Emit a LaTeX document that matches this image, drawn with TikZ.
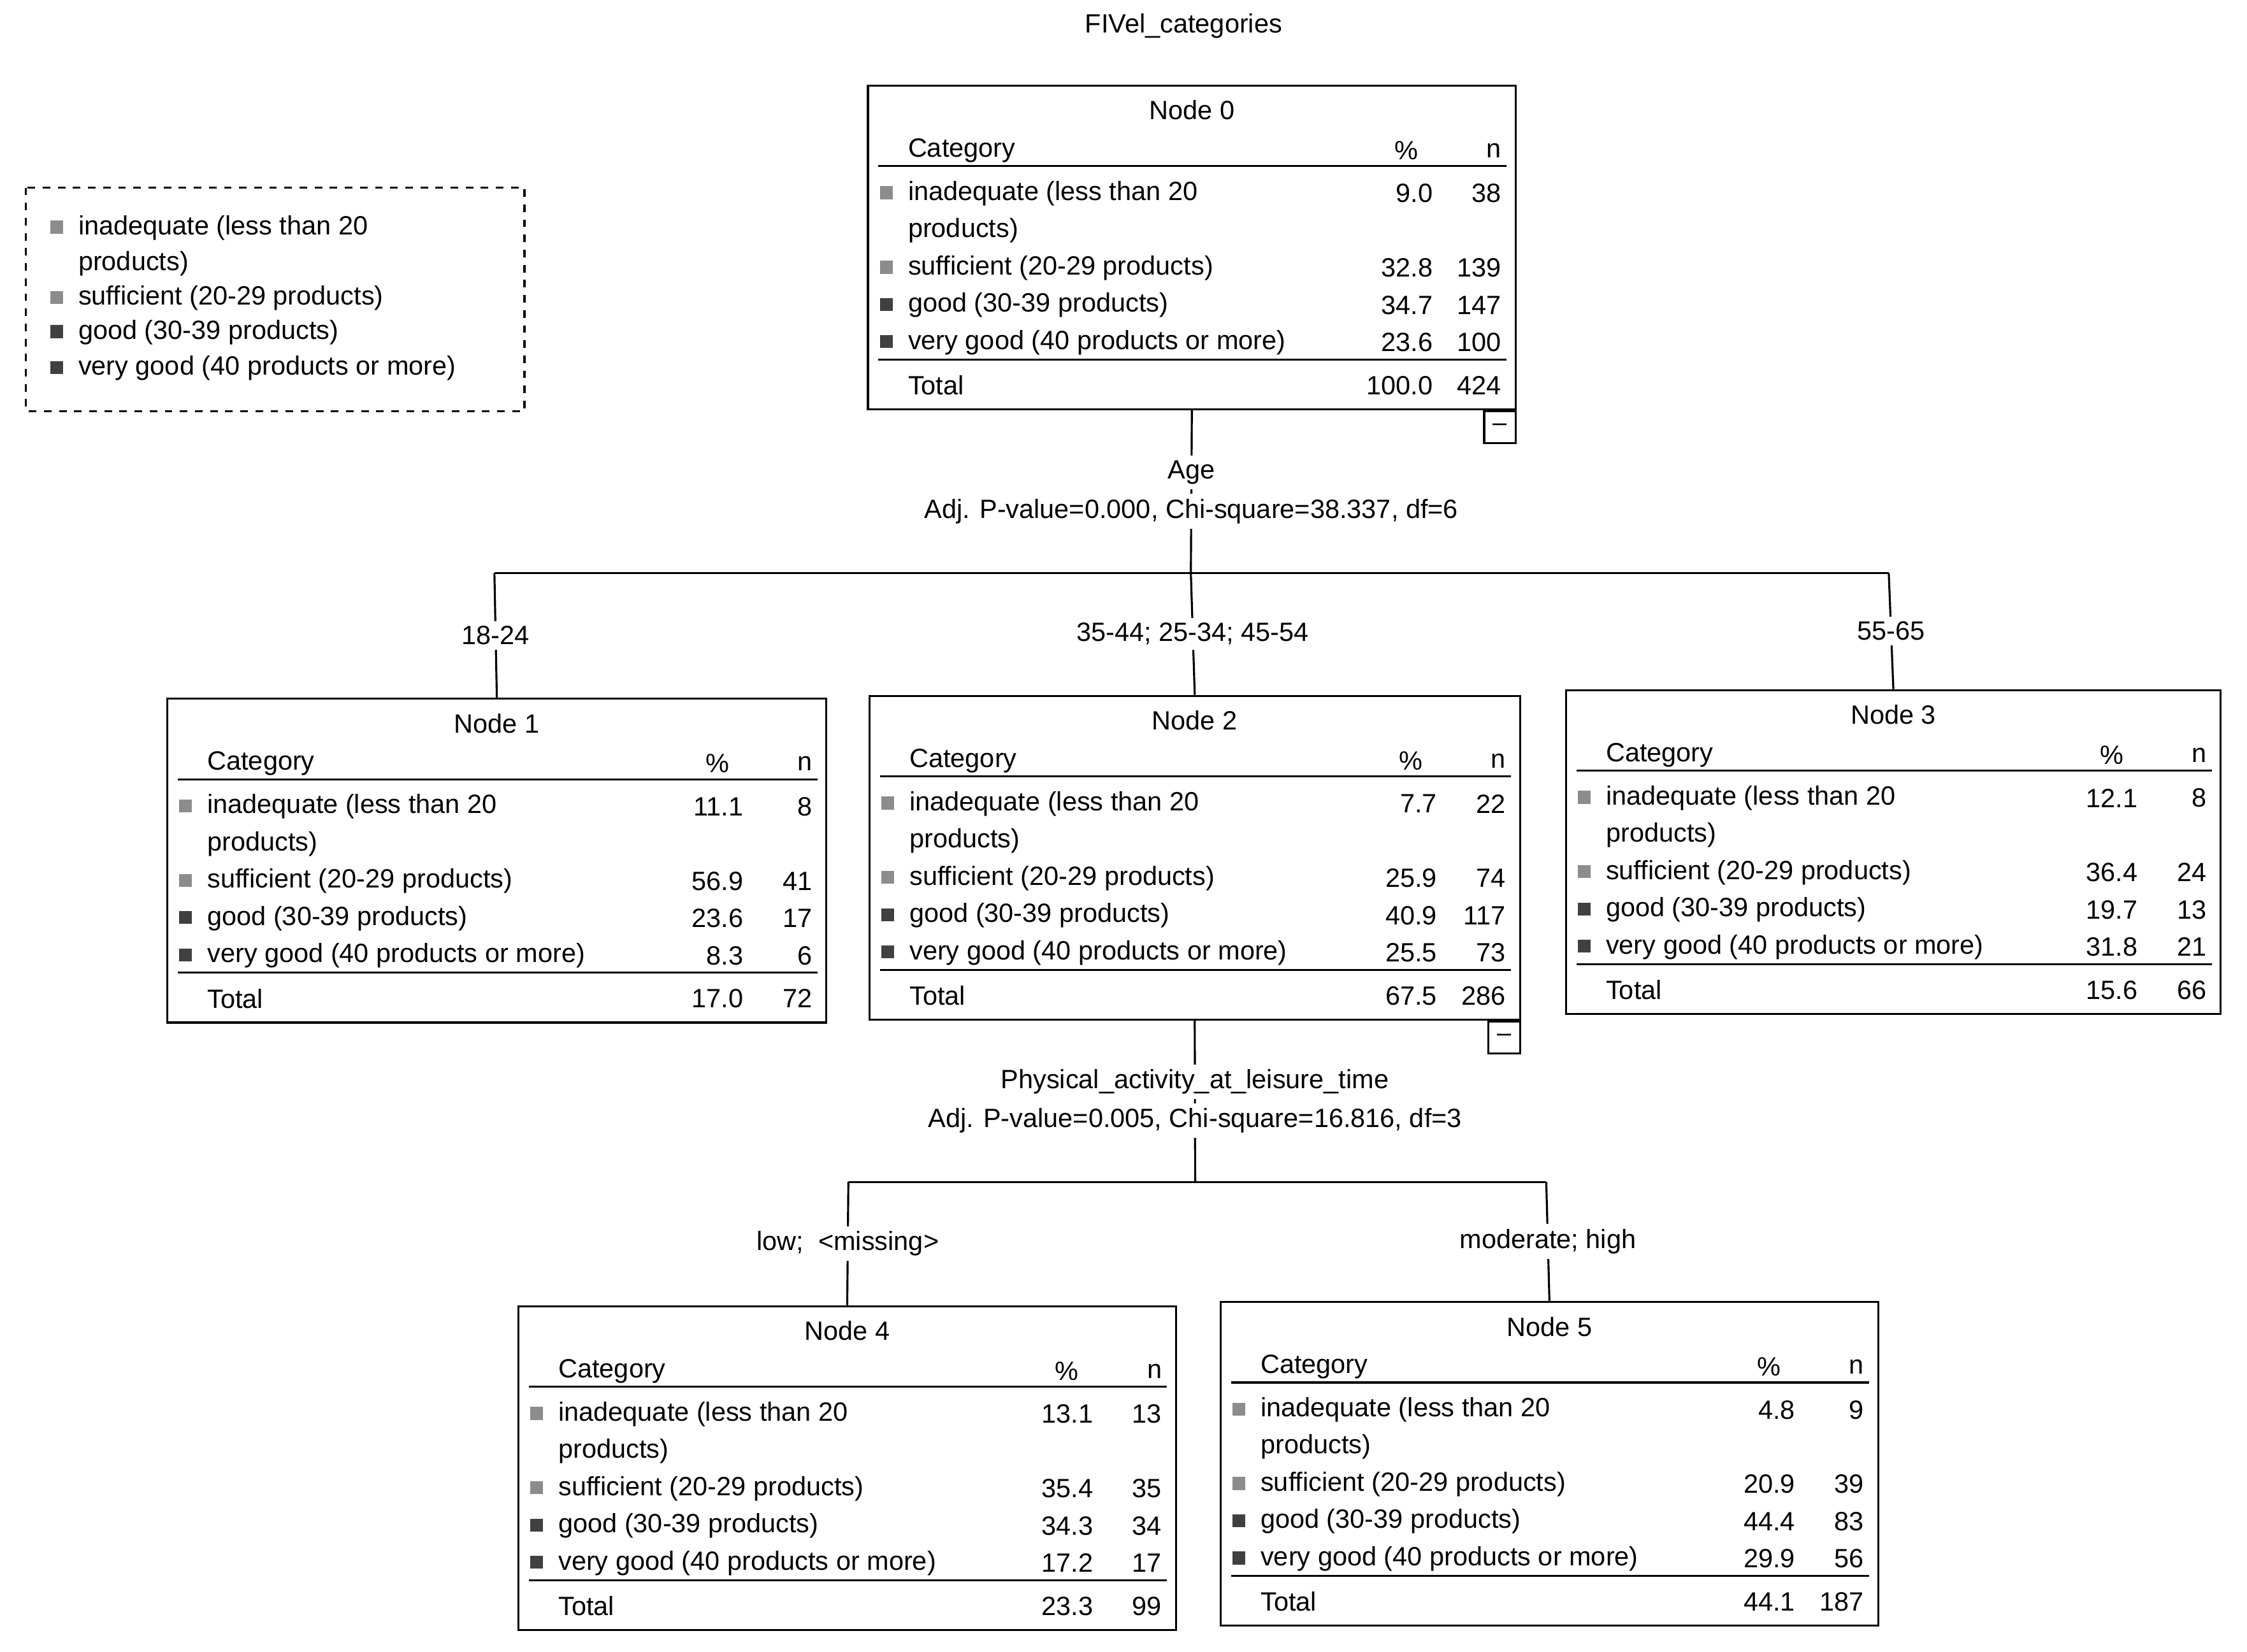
\documentclass[tikz,border=0pt]{standalone}
\usepackage{fontspec}
\setmainfont{Liberation Sans}
\usetikzlibrary{calc}

% one table node of the tree
\newcommand{\treenode}[8]{%
  \node[box, minimum width={#4*0.02cm}, anchor=north west] (#1) at (#2,#3) {};
  \node[txt, anchor=center] (#1t) at ($(#1.north)+(0,18)$) {#5};
  \node[txt, anchor=west] (#1c) at ($(#1.north west)+(28,46)$) {Category};
  \node[txt, anchor=east] (#1p) at ($(#1.north east)+(-68,46)$) {\%};
  \node[txt, anchor=east] (#1n) at ($(#1.north east)+(-10,46)$) {n};
  \draw ($(#1.north west)+(8,57)$) -- ($(#1.north east)+(-7,57)$);
  \node[txt, anchor=west] at ($(#1.north west)+(28,76)$) {inadequate (less than 20};
  \node[txt, anchor=west] at ($(#1.north west)+(28,102)$) {products)};
  \node[txt, anchor=west] at ($(#1.north west)+(28,128)$) {sufficient (20-29 products)};
  \node[txt, anchor=west] at ($(#1.north west)+(28,154)$) {good (30-39 products)};
  \node[txt, anchor=west] at ($(#1.north west)+(28,180)$) {very good (40 products or more)};
  \foreach \pv/\nv [count=\i] in {#6} {
    \pgfmathsetmacro\ry{\i==1 ? 76 : 76+26*\i}
    \pgfmathsetmacro\sh{\i<3 ? 45 : 75}
    \fill[black!\sh] ($(#1.north west)+(9,\ry-5)$) rectangle ++(9,9);
    \node[txt, anchor=east] at ($(#1.north east)+(-58,\ry)$) {\pv};
    \node[txt, anchor=east] at ($(#1.north east)+(-10,\ry)$) {\nv};
  }
  \draw ($(#1.north west)+(8,192)$) -- ($(#1.north east)+(-7,192)$);
  \node[txt, anchor=west] at ($(#1.north west)+(28,210)$) {Total};
  \node[txt, anchor=east] at ($(#1.north east)+(-58,210)$) {#7};
  \node[txt, anchor=east] at ($(#1.north east)+(-10,210)$) {#8};
}

\begin{document}
\begin{tikzpicture}[x=0.02cm,y=-0.02cm,thick,
box/.style ={rectangle, draw, thick, minimum height={226*0.02cm}, inner sep=0pt},
txt/.style ={inner sep=0pt, font=\fontsize{10.5}{12}\selectfont},
lbl/.style ={fill=white, inner sep=2pt, font=\fontsize{10.5}{12}\selectfont},
minus/.style ={rectangle, draw, thick, minimum size={22*0.02cm}, inner sep=0pt, anchor=north east}
]
\useasboundingbox (0,0) rectangle (1568,1153);
\node[txt] (title) at (826,18) {FIVel\_categories};

% legend
\draw[dashed] (18,131) rectangle (366,287);
\foreach \t/\yy/\sh in {inadequate (less than 20/159/45, products)/184/0, sufficient (20-29 products)/208/45, good (30-39 products)/232/75, very good (40 products or more)/257/75} {
  \ifnum\sh>0 \fill[black!\sh] (35,\yy-5) rectangle ++(9,9); \fi
  \node[txt, anchor=west] at (54,\yy) {\t};
}

\treenode{n0}{605}{59}{452}{Node 0}{9.0/38, 32.8/139, 34.7/147, 23.6/100}{100.0}{424}
\treenode{n1}{116}{487}{460}{Node 1}{11.1/8, 56.9/41, 23.6/17, 8.3/6}{17.0}{72}
\treenode{n2}{606}{485}{454}{Node 2}{7.7/22, 25.9/74, 40.9/117, 25.5/73}{67.5}{286}
\treenode{n3}{1092}{481}{457}{Node 3}{12.1/8, 36.4/24, 19.7/13, 31.8/21}{15.6}{66}
\treenode{n4}{361}{911}{459}{Node 4}{13.1/13, 35.4/35, 34.3/34, 17.2/17}{23.3}{99}
\treenode{n5}{851}{908}{459}{Node 5}{4.8/9, 20.9/39, 44.4/83, 29.9/56}{44.1}{187}

\node[minus] (m0) at (n0.south east) {--};
\node[minus] (m2) at (n2.south east) {--};

% first split
\coordinate (s0) at (831,400);
\coordinate (s0l) at (345,400);
\coordinate (s0r) at (1318,400);
\draw (n0.south) -- (s0)
  node[lbl, pos=0.38] {Age}
  node[lbl, pos=0.62] {Adj. P-value=0.000, Chi-square=38.337, df=6};
\draw (s0l) -- (s0r);
\draw (s0l) -- (n1.north) node[lbl, midway] {18-24};
\draw (s0) -- (n2.north) node[lbl, midway] {35-44; 25-34; 45-54};
\draw (s0r) -- (n3.north) node[lbl, midway] {55-65};

% second split
\coordinate (s2) at (834,825);
\coordinate (s2l) at (592,825);
\coordinate (s2r) at (1079,825);
\draw (n2.south) -- (s2)
  node[lbl, pos=0.38] {Physical\_activity\_at\_leisure\_time}
  node[lbl, pos=0.62] {Adj. P-value=0.005, Chi-square=16.816, df=3};
\draw (s2l) -- (s2r);
\draw (s2l) -- (n4.north) node[lbl, midway] {low;\ \ {<}missing{>}};
\draw (s2r) -- (n5.north) node[lbl, midway] {moderate; high};
\end{tikzpicture}
\end{document}
